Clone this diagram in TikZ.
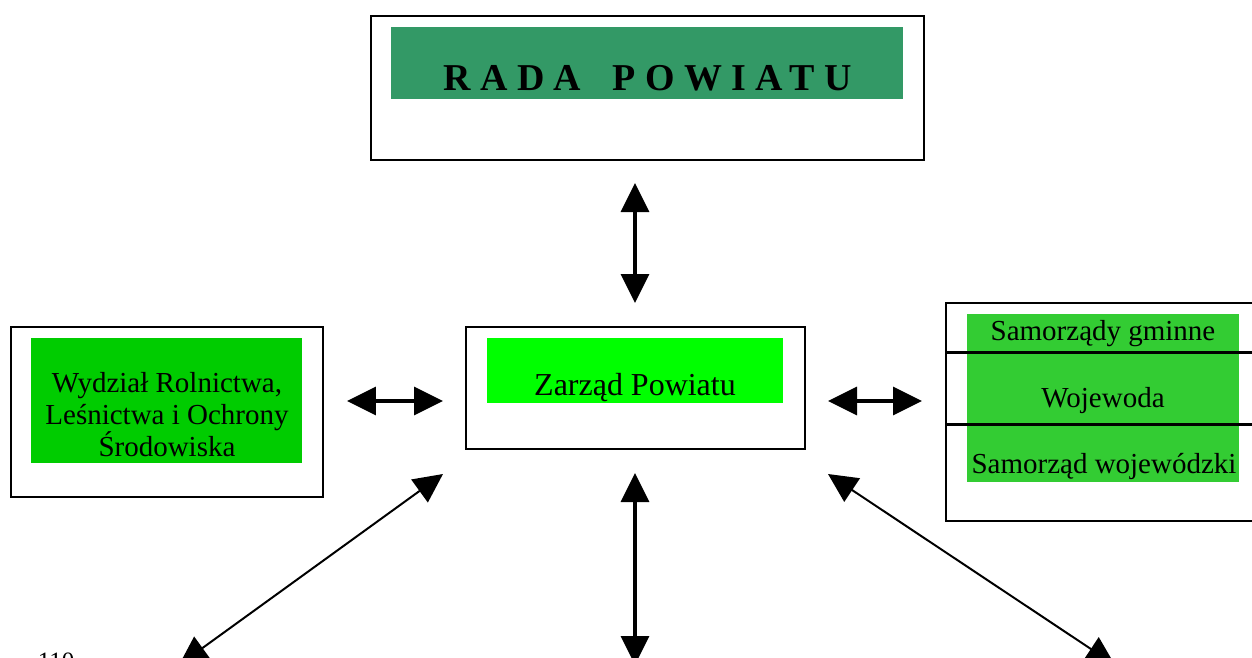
\documentclass[tikz,border=0pt]{standalone}
\usepackage{fontspec}
\setmainfont{Liberation Serif}
\usetikzlibrary{arrows.meta}
\definecolor{radagreen}{HTML}{339966}
\definecolor{zarzadgreen}{HTML}{00FF00}
\definecolor{wydzialgreen}{HTML}{00CC00}
\definecolor{samgreen}{HTML}{33CC33}
\begin{document}
\begin{tikzpicture}[x=0.02cm,y=-0.02cm,
  outerbox/.style={draw=black, line width=0.75pt, fill=white, inner sep=0pt},
  greenbox/.style={inner sep=0pt, draw=none},
  txt/.style={inner sep=0pt, anchor=base},
  sidefont/.style={font=\fontsize{16.5}{18.3}\selectfont},
  tip/.tip={Triangle[length=0.58cm,width=0.56cm]},
  biarrow/.style={tip-tip, line width=1.8pt},
  diagarrow/.style={tip-tip, line width=1.13pt}]
\useasboundingbox (0,0) rectangle (1252,657);
\fill[white] (0,0) rectangle (1252,657);
% top
\node[outerbox, minimum width=11.06cm, minimum height=2.88cm] (radaout) at (647.5,88) {};
\node[greenbox, fill=radagreen, minimum width=10.24cm, minimum height=1.44cm] (radain) at (647,63) {};
\node[txt, anchor=base west] (radatxt) at (443,90) {\fontsize{21.6}{25}\selectfont\bfseries\addfontfeature{LetterSpace=25}RADA\hspace{6.9pt} POWIATU};
% center
\node[outerbox, minimum width=6.78cm, minimum height=2.44cm] (zout) at (635.5,388) {};
\node[greenbox, fill=zarzadgreen, minimum width=5.92cm, minimum height=1.30cm] (zin) at (635,370.5) {};
\node[txt] (ztxt) at (635,395) {\fontsize{18.2}{22}\selectfont Zarząd Powiatu};
% left
\node[outerbox, minimum width=6.24cm, minimum height=3.40cm] (lout) at (167,412) {};
\node[greenbox, fill=wydzialgreen, minimum width=5.42cm, minimum height=2.50cm] (lin) at (166.5,400.5) {};
\node[inner sep=0pt, align=center, sidefont] (ltxt) at (167,414.5) {Wydział Rolnictwa,\\Leśnictwa i Ochrony\\Środowiska};
% right
\node[outerbox, minimum width=6.32cm, minimum height=4.36cm] (rout) at (1104,412) {};
\node[greenbox, fill=samgreen, minimum width=5.44cm, minimum height=3.36cm] (rin) at (1103,398) {};
\node[txt, sidefont] (gminy) at (1103,340) {Samorządy gminne};
\node[txt, sidefont] (wojewoda) at (1103,407) {Wojewoda};
\node[txt, sidefont] (wojew) at (1104,473) {Samorząd wojewódzki};
\draw[line width=1.7pt] (946,352) -- (1262,352);
\draw[line width=1.7pt] (946,424) -- (1262,424);
% page number
\node[txt, font=\fontsize{14.2}{17}\selectfont] (pagenum) at (56,669) {110};
% connectors
\coordinate (a1) at (635,183); \coordinate (a2) at (635,303);
\coordinate (b1) at (347,401); \coordinate (b2) at (443,401);
\coordinate (c1) at (828,401); \coordinate (c2) at (922,401);
\coordinate (d1) at (635,473); \coordinate (d2) at (635,665);
\coordinate (e1) at (443,474); \coordinate (e2) at (179,665);
\coordinate (f1) at (828,474); \coordinate (f2) at (1115,665);
\draw[biarrow] (a1) -- (a2);
\draw[biarrow] (b1) -- (b2);
\draw[biarrow] (c1) -- (c2);
\draw[biarrow] (d1) -- (d2);
\draw[diagarrow] (e1) -- (e2);
\draw[diagarrow] (f1) -- (f2);
\end{tikzpicture}
\end{document}
